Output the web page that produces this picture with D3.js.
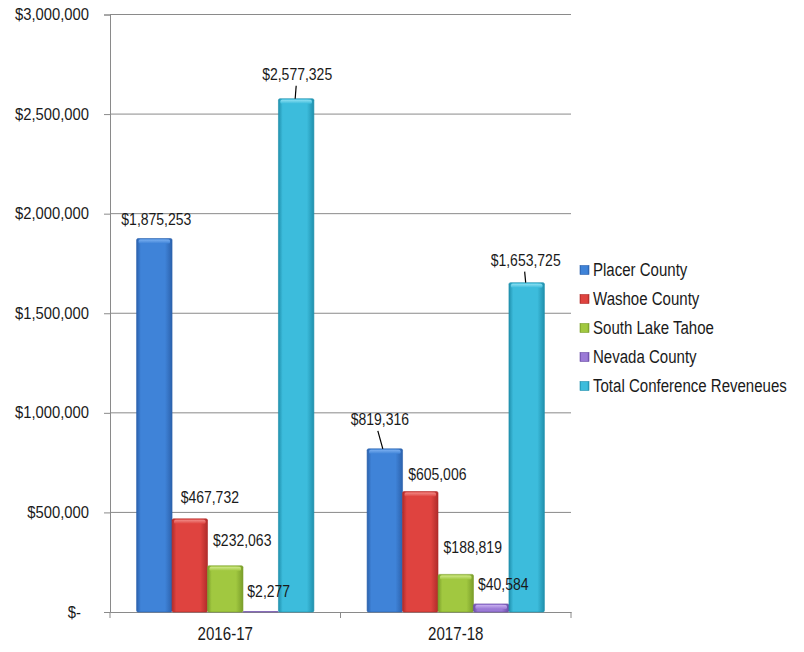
<!DOCTYPE html>
<html>
<head>
<meta charset="utf-8">
<script src="https://cdn.jsdelivr.net/npm/d3@7"></script>
<style>
  body { margin: 0; background: #fff; }
  svg text { font-family: "Liberation Sans", Arial, sans-serif; fill: #1a1a1a; }
</style>
</head>
<body>
<svg id="chart"></svg>
<script>
// chart values
const categories = ["2016-17", "2017-18"];
const seriesNames = ["Placer County", "Washoe County", "South Lake Tahoe", "Nevada County", "Total Conference Reveneues"];
const placerCounty = [1875253, 819316];
const washoeCounty = [467732, 605006];
const southLakeTahoe = [232063, 188819];
const nevadaCounty = [2277, 40584];
const totalRevenues = [2577325, 1653725];
const yTicks = [0, 500000, 1000000, 1500000, 2000000, 2500000, 3000000];

const seriesValues = [placerCounty, washoeCounty, southLakeTahoe, nevadaCounty, totalRevenues];

// colours: [edge, mid, light top]
const palette = [
  ["#2c62ad", "#3f83d8", "#79aeef"],
  ["#b02c2a", "#df433f", "#f08a86"],
  ["#7a9e2a", "#a1c840", "#cfe88a"],
  ["#6a4ca6", "#9b7ad6", "#c8b0f0"],
  ["#2090ad", "#3cbcdc", "#8ee0f2"]
];

// label nudges (dx, dy from bar top), Excel had them dragged around
const labelNudge = [
  [[2, -13], [-5, -24]],
  [[20, -16], [17, -12]],
  [[17, -20], [17, -21]],
  [[8, -15], [12, -14]],
  [[1, -19], [-1, -17]]
];
const leaderLines = { "4-0": true, "4-1": true, "0-1": true };

const W = 804, H = 652;
const margin = { top: 14.5, left: 110, right: 233, bottom: 40 };
const plotRight = W - margin.right;
const plotBottom = H - margin.bottom;

// no narrow font installed, so squeeze the text horizontally
function squeeze(sel, sx) {
  sel.each(function() {
    const t = d3.select(this);
    const x = +t.attr("x") || 0;
    const dx = +t.attr("dx") || 0;
    t.attr("x", 0).attr("dx", null)
      .attr("transform", `translate(${x + dx},0) scale(${sx},1)`);
  });
}

const svg = d3.select("#chart").attr("width", W).attr("height", H);

const x0 = d3.scaleBand().domain(categories).range([margin.left, plotRight]);
const x1 = d3.scaleBand().domain(seriesNames).range([0, x0.bandwidth()]).paddingOuter(0.75);
const y = d3.scaleLinear().domain([0, 3000000]).range([plotBottom, margin.top]);

const fmt = d3.format(",");
const money = d => d === 0 ? "$-" : "$" + fmt(d);

// gradients
const defs = svg.append("defs");
palette.forEach((c, i) => {
  const g = defs.append("linearGradient").attr("id", "bar" + i).attr("x1", 0).attr("x2", 1).attr("y1", 0).attr("y2", 0);
  g.append("stop").attr("offset", "0%").attr("stop-color", c[0]);
  g.append("stop").attr("offset", "12%").attr("stop-color", c[1]);
  g.append("stop").attr("offset", "80%").attr("stop-color", c[1]);
  g.append("stop").attr("offset", "100%").attr("stop-color", c[0]);
  const t = defs.append("linearGradient").attr("id", "top" + i).attr("x1", 0).attr("x2", 0).attr("y1", 0).attr("y2", 1);
  t.append("stop").attr("offset", "0%").attr("stop-color", c[2]);
  t.append("stop").attr("offset", "100%").attr("stop-color", c[1]);
});

// gridlines
svg.append("g")
  .selectAll("line")
  .data(yTicks.filter(d => d > 0))
  .join("line")
  .attr("x1", margin.left).attr("x2", plotRight)
  .attr("y1", d => y(d)).attr("y2", d => y(d))
  .attr("stroke", "#8a8a8a").attr("stroke-width", 1);

// y axis
const yAxis = svg.append("g")
  .attr("transform", `translate(${margin.left},0)`)
  .call(d3.axisLeft(y).tickValues(yTicks).tickSize(6).tickPadding(15).tickFormat(money));
yAxis.selectAll("path, line").attr("stroke", "#8a8a8a");
yAxis.selectAll("text").attr("font-size", 16).attr("fill", "#222")
  .attr("dx", d => d === 0 ? -8 : 0);
squeeze(yAxis.selectAll("text"), 0.925);

// x axis
const xAxis = svg.append("g")
  .attr("transform", `translate(0,${plotBottom})`)
  .call(d3.axisBottom(x0).tickSize(0).tickPadding(14));
xAxis.selectAll("path").attr("stroke", "#8a8a8a");
xAxis.selectAll("text").attr("font-size", 18).attr("dy", "0.8em").attr("fill", "#111");
squeeze(xAxis.selectAll("text"), 0.84);
xAxis.selectAll(".bound")
  .data([margin.left, ...categories.map(c => x0(c) + x0.bandwidth())])
  .join("line")
  .attr("x1", d => d).attr("x2", d => d)
  .attr("y1", 0).attr("y2", 6)
  .attr("stroke", "#8a8a8a");

// bars
const bars = [];
seriesValues.forEach((vals, s) => {
  vals.forEach((v, c) => {
    bars.push({ s, c, v, x: x0(categories[c]) + x1(seriesNames[s]), w: x1.bandwidth() });
  });
});

const barG = svg.append("g").selectAll("g").data(bars).join("g");
barG.append("rect")
  .attr("x", d => d.x).attr("width", d => d.w)
  .attr("y", d => y(d.v)).attr("height", d => y(0) - y(d.v))
  .attr("fill", d => `url(#bar${d.s})`)
  .attr("stroke", d => palette[d.s][0]).attr("stroke-width", 0.6)
  .attr("rx", 1.5);
barG.filter(d => y(0) - y(d.v) > 6).append("rect")
  .attr("x", d => d.x + 2).attr("width", d => d.w - 4)
  .attr("y", d => y(d.v) + 1).attr("height", 4)
  .attr("fill", d => `url(#top${d.s})`)
  .attr("rx", 1.5);

// labels
const lab = svg.append("g").selectAll("g").data(bars).join("g");
lab.append("text")
  .attr("x", d => d.x + d.w / 2 + labelNudge[d.s][d.c][0])
  .attr("y", d => y(d.v) + labelNudge[d.s][d.c][1])
  .attr("text-anchor", "middle")
  .attr("font-size", 16)
  .text(d => money(d.v));
squeeze(lab.selectAll("text"), 0.875);
lab.filter(d => leaderLines[d.s + "-" + d.c]).append("line")
  .attr("x1", d => d.x + d.w / 2 + labelNudge[d.s][d.c][0] - (d.s === 0 ? 2 : 1))
  .attr("y1", d => y(d.v) + labelNudge[d.s][d.c][1] + 6)
  .attr("x2", d => d.x + d.w / 2 - (d.s === 0 ? 2 : 1))
  .attr("y2", d => y(d.v))
  .attr("stroke", "#000").attr("stroke-width", 1.2);

// legend
const legend = svg.append("g").attr("transform", "translate(580,270)");
const li = legend.selectAll("g").data(seriesNames).join("g")
  .attr("transform", (d, i) => `translate(0,${i * 29})`);
li.append("rect")
  .attr("x", 0).attr("y", -4.5).attr("width", 9).attr("height", 9)
  .attr("fill", (d, i) => `url(#bar${i})`)
  .attr("stroke", (d, i) => palette[i][0]).attr("stroke-width", 0.6);
li.append("text")
  .attr("x", 13).attr("dy", "0.35em")
  .attr("font-size", 18)
  .text(d => d);
squeeze(li.selectAll("text"), 0.835);
</script>
</body>
</html>
